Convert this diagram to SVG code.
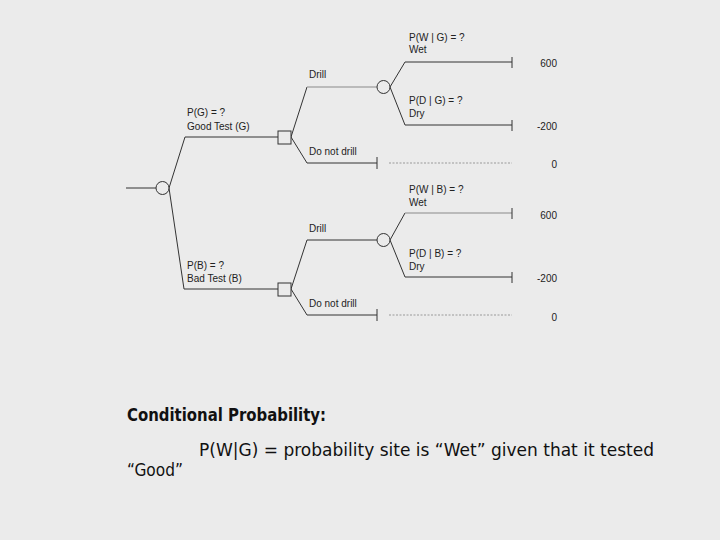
<svg xmlns="http://www.w3.org/2000/svg" width="720" height="540" viewBox="0 0 720 540">
<style>
.t{font-family:"Liberation Sans",Arial,sans-serif;font-size:10px;fill:#222}
.v{font-family:"Liberation Sans",Arial,sans-serif;font-size:10px;fill:#222;text-anchor:end}
.c{font-family:"DejaVu Sans","Liberation Sans",sans-serif;font-size:17px;fill:#111}
.b{font-weight:bold}
.ln{stroke:#333;stroke-width:1;fill:none}
.lg{stroke:#aaa;stroke-width:1.5;fill:none}
.dot{stroke:#999;stroke-width:1;stroke-dasharray:2 1.5;fill:none}
.node{fill:#ebebeb;stroke:#333;stroke-width:1}
</style>
<rect width="720" height="540" fill="#ebebeb"/>
<g id="connectors">
<line class="ln" x1="126" y1="188" x2="156" y2="188"/>
<polyline class="ln" points="169,188 185,137 278,137"/>
<polyline class="ln" points="169,188 184,289 278,289"/>
<polyline class="ln" points="291,137 307,87"/>
<line class="lg" x1="307" y1="87" x2="377" y2="87"/>
<polyline class="ln" points="291,137 307,163 377,163"/>
<line class="ln" x1="377" y1="157" x2="377" y2="169"/>
<line class="dot" x1="389" y1="163" x2="512" y2="163"/>
<polyline class="ln" points="390,87 405,62 512,62"/>
<line class="ln" x1="512" y1="57" x2="512" y2="68"/>
<polyline class="ln" points="390,87 405,125 512,125"/>
<line class="ln" x1="512" y1="120" x2="512" y2="131"/>
<polyline class="ln" points="291,289 307,240 377,240"/>
<polyline class="ln" points="291,289 307,315 377,315"/>
<line class="ln" x1="377" y1="309" x2="377" y2="321"/>
<line class="dot" x1="389" y1="315" x2="512" y2="315"/>
<line class="ln" x1="390" y1="240" x2="405" y2="213"/>
<line class="lg" x1="405" y1="213" x2="512" y2="213"/>
<line class="ln" x1="512" y1="208" x2="512" y2="219"/>
<polyline class="ln" points="390,240 405,277 512,277"/>
<line class="ln" x1="512" y1="272" x2="512" y2="283"/>
</g>
<g id="root"><circle class="node" cx="162.5" cy="188" r="6.5"/></g>
<g id="decision-good"><rect class="node" x="278" y="131" width="13" height="13"/></g>
<g id="decision-bad"><rect class="node" x="278" y="283" width="13" height="13"/></g>
<g id="chance-good"><circle class="node" cx="383.5" cy="87" r="6.5"/></g>
<g id="chance-bad"><circle class="node" cx="383.5" cy="240" r="6.5"/></g>
<g id="labels">
<text class="t" x="187" y="116">P(G) = ?</text>
<text class="t" x="187" y="130">Good Test (G)</text>
<text class="t" x="187" y="269">P(B) = ?</text>
<text class="t" x="187" y="282">Bad Test (B)</text>
<text class="t" x="309" y="78">Drill</text>
<text class="t" x="309" y="155">Do not drill</text>
<text class="t" x="309" y="232">Drill</text>
<text class="t" x="309" y="307">Do not drill</text>
<text class="t" x="409" y="41">P(W | G) = ?</text>
<text class="t" x="409" y="53">Wet</text>
<text class="t" x="409" y="104">P(D | G) = ?</text>
<text class="t" x="409" y="117">Dry</text>
<text class="t" x="409" y="193">P(W | B) = ?</text>
<text class="t" x="409" y="206">Wet</text>
<text class="t" x="409" y="257">P(D | B) = ?</text>
<text class="t" x="409" y="270">Dry</text>
<text class="v" x="557" y="67">600</text>
<text class="v" x="557" y="130">-200</text>
<text class="v" x="557" y="168">0</text>
<text class="v" x="557" y="219">600</text>
<text class="v" x="557" y="282">-200</text>
<text class="v" x="557" y="321">0</text>
</g>
<g id="caption">
<text class="c b" x="127" y="421" textLength="199" lengthAdjust="spacingAndGlyphs">Conditional Probability:</text>
<text class="c" x="199" y="456" textLength="455" lengthAdjust="spacingAndGlyphs">P(W|G) = probability site is “Wet” given that it tested</text>
<text class="c" x="127" y="476" textLength="56" lengthAdjust="spacingAndGlyphs">“Good”</text>
</g>
</svg>
